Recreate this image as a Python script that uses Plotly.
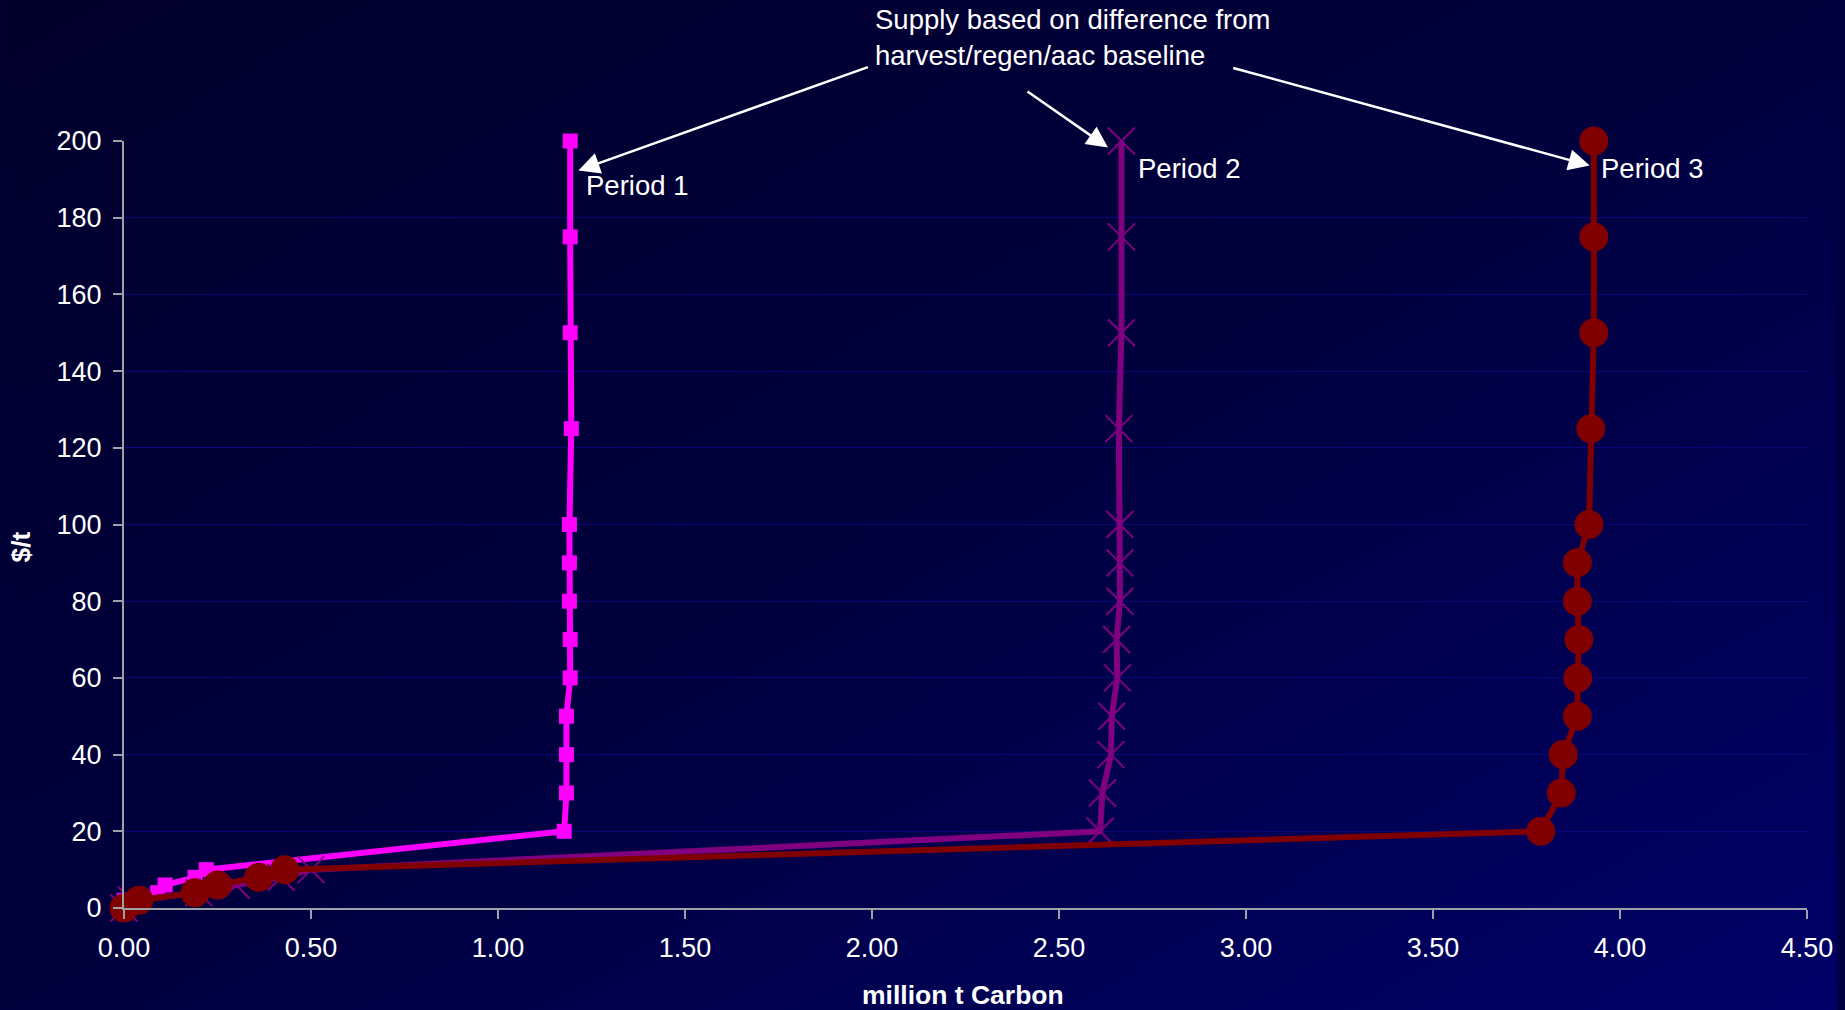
import base64
import plotly.graph_objects as go

# ---- data ----
price = [0, 2, 4, 6, 8, 10, 20, 30, 40, 50, 60, 70, 80, 90, 100, 125, 150, 175, 200]
period1 = [0.00, 0.00, 0.09, 0.11, 0.19, 0.22, 1.177, 1.183, 1.183, 1.183, 1.193, 1.193,
           1.191, 1.191, 1.191, 1.196, 1.193, 1.193, 1.193]
period2 = [0.00, 0.02, 0.20, 0.30, 0.42, 0.50, 2.610, 2.616, 2.639, 2.641, 2.656, 2.654,
           2.663, 2.663, 2.663, 2.660, 2.667, 2.667, 2.667]
period3 = [0.00, 0.04, 0.19, 0.25, 0.36, 0.43, 3.788, 3.843, 3.848, 3.886, 3.887, 3.890,
           3.886, 3.886, 3.917, 3.922, 3.930, 3.930, 3.930]
series_names = ["Period 1", "Period 2", "Period 3"]
x_ticks = [0, 0.5, 1.0, 1.5, 2.0, 2.5, 3.0, 3.5, 4.0, 4.5]
y_ticks = [0, 20, 40, 60, 80, 100, 120, 140, 160, 180, 200]

W, H = 1845, 1010
ML, MR, MT, MB = 124, 30, 141, 102
PW, PH = W - ML - MR, H - MT - MB

FONT = "Liberation Sans, Arial, sans-serif"
TXT = 27.5

fig = go.Figure()
fig.add_trace(go.Scatter(
    x=period1, y=price, mode="lines+markers", name=series_names[0], cliponaxis=False,
    line=dict(color="#FF00FF", width=6),
    marker=dict(symbol="square", size=15, color="#FF00FF")))
fig.add_trace(go.Scatter(
    x=period2, y=price, mode="lines+markers", name=series_names[1], cliponaxis=False,
    line=dict(color="#800080", width=6),
    marker=dict(symbol="x-thin-open", size=27, line=dict(color="#800080", width=2))))
fig.add_trace(go.Scatter(
    x=period3, y=price, mode="lines+markers", name=series_names[2], cliponaxis=False,
    line=dict(color="#800000", width=6),
    marker=dict(symbol="circle", size=29, color="#800000")))

svg = (f"<svg xmlns='http://www.w3.org/2000/svg' width='{W}' height='{H}' viewBox='0 0 {W} {H}' preserveAspectRatio='none'>"
       "<defs><linearGradient id='g' x1='0' y1='0' x2='1' y2='1'>"
       "<stop offset='0' stop-color='#02002a'/>"
       "<stop offset='0.5' stop-color='#00003e'/>"
       "<stop offset='1' stop-color='#000068'/>"
       "</linearGradient></defs>"
       f"<rect width='{W}' height='{H}' fill='url(#g)'/></svg>")
src = "data:image/svg+xml;base64," + base64.b64encode(svg.encode()).decode()

white = "#FFFFFF"
axis_col = "#A0A0A8"


def px(xp):
    return (xp - ML) / PW


def py(yp):
    return 1 - (yp - MT) / PH


annotations = [
    dict(text="Supply based on difference from<br>harvest/regen/aac baseline",
         xref="paper", yref="paper", x=px(877), y=py(2),
         xanchor="left", yanchor="top", align="left", showarrow=False,
         font=dict(family=FONT, size=TXT, color=white)),
    dict(text="", x=1.215, y=192.3, xref="x", yref="y", showarrow=True,
         ax=291, ay=-104, arrowhead=2, arrowsize=1.7, arrowwidth=2.5, arrowcolor=white),
    dict(text="", x=2.631, y=198.3, xref="x", yref="y", showarrow=True,
         ax=-82, ay=-57, arrowhead=2, arrowsize=1.7, arrowwidth=2.5, arrowcolor=white),
    dict(text="", x=3.919, y=193.6, xref="x", yref="y", showarrow=True,
         ax=-358, ay=-98, arrowhead=2, arrowsize=1.7, arrowwidth=2.5, arrowcolor=white),
    dict(text=series_names[0], xref="paper", yref="paper",
         x=px(586), y=py(185), xanchor="left", yanchor="middle",
         showarrow=False, font=dict(family=FONT, size=TXT, color=white)),
    dict(text=series_names[1], xref="paper", yref="paper",
         x=px(1141), y=py(168), xanchor="left", yanchor="middle",
         showarrow=False, font=dict(family=FONT, size=TXT, color=white)),
    dict(text=series_names[2], xref="paper", yref="paper",
         x=px(1606), y=py(168), xanchor="left", yanchor="middle",
         showarrow=False, font=dict(family=FONT, size=TXT, color=white)),
    dict(text="<b>million t Carbon</b>", xref="paper", yref="paper",
         x=px(967), y=py(995), xanchor="center", yanchor="middle",
         showarrow=False, font=dict(family=FONT, size=26.5, color=white)),
    dict(text="<b>$/t</b>", xref="paper", yref="paper", textangle=-90,
         x=px(21), y=py(547), xanchor="center", yanchor="middle",
         showarrow=False, font=dict(family=FONT, size=26.5, color=white)),
]

fig.update_layout(
    width=W, height=H,
    margin=dict(l=ML, r=MR, t=MT, b=MB, pad=0),
    paper_bgcolor="#000040", plot_bgcolor="rgba(0,0,0,0)",
    showlegend=False,
    images=[dict(source=src, xref="paper", yref="paper",
                 x=-ML / PW, y=1 + MT / PH, sizex=W / PW, sizey=H / PH,
                 xanchor="left", yanchor="top", sizing="stretch", layer="below")],
    annotations=annotations,
    xaxis=dict(range=[0, 4.5], tickvals=x_ticks, tickformat=".2f",
               showgrid=False, zeroline=False,
               showline=True, linecolor=axis_col, linewidth=2,
               ticks="outside", ticklen=9, tickcolor=axis_col, tickwidth=1.5,
               ticklabelstandoff=6,
               tickfont=dict(family=FONT, size=27, color=white)),
    yaxis=dict(range=[0, 200], tickvals=y_ticks,
               showgrid=True, gridcolor="#08087a", gridwidth=1, zeroline=False,
               showline=True, linecolor=axis_col, linewidth=2,
               ticks="outside", ticklen=9, tickcolor=axis_col, tickwidth=1.5,
               ticklabelstandoff=6,
               tickfont=dict(family=FONT, size=27, color=white)),
)

fig.write_html("out.html")
